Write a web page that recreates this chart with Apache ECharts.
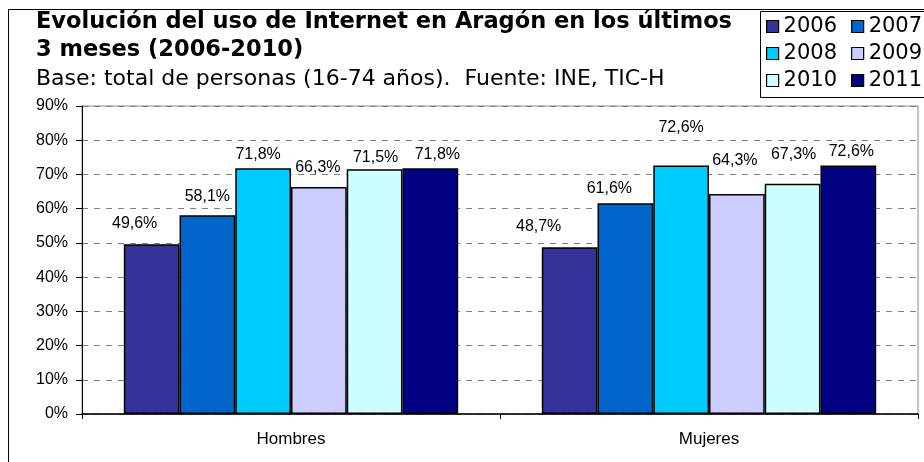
<!DOCTYPE html>
<html lang="es">
<head>
    <meta charset="UTF-8">
    <title>Uso de Internet en Aragón</title>
    <script src="https://cdn.jsdelivr.net/npm/echarts@6/dist/echarts.min.js"></script>
    <style>
        html, body { margin: 0; padding: 0; background: #ffffff; }
        #chart { width: 924px; height: 462px; }
    </style>
</head>
<body>
    <div id="chart"></div>

    <script>
        // datos (% de personas que han usado Internet en los últimos 3 meses)
        const categories = ['Hombres', 'Mujeres'];
        const years = ['2006', '2007', '2008', '2009', '2010', '2011'];
        const hombres = [49.6, 58.1, 71.8, 66.3, 71.5, 71.8];
        const mujeres = [48.7, 61.6, 72.6, 64.3, 67.3, 72.6];
        const yTicks = [0, 10, 20, 30, 40, 50, 60, 70, 80, 90];

        const colors = ['#333399', '#0066cc', '#00ccff', '#ccccff', '#ccffff', '#000080'];

        // pequeños desplazamientos de las etiquetas, como en el original
        const nudgeH = [[-17, 13], [0, 11], [-5, 6], [-1, 12], [1, 4], [7, 6]];
        const nudgeM = [[-31, 13], [-16, 7], [0, 30], [-2, 25], [1, 21], [3, 6]];

        const fmt = v => v.toFixed(1).replace('.', ',') + '%';

        const series = years.map((y, i) => ({
            name: y,
            type: 'bar',
            barGap: '0%',
            barCategoryGap: '20%',
            itemStyle: { color: colors[i], borderColor: '#000', borderWidth: 1.5 },
            data: [
                { value: hombres[i], label: { offset: [nudgeH[i][0], -nudgeH[i][1]] } },
                { value: mujeres[i], label: { offset: [nudgeM[i][0], -nudgeM[i][1]] } }
            ],
            label: {
                show: true,
                position: 'top',
                distance: 0,
                formatter: p => fmt(p.value),
                color: '#000',
                fontFamily: 'Liberation Sans',
                fontSize: 16
            }
        }));

        const legendRow = (items, top) => ({
            data: items,
            left: 766,
            top: top,
            icon: 'rect',
            itemWidth: 12,
            itemHeight: 12,
            itemGap: 14,
            padding: 0,
            itemStyle: { borderColor: '#000', borderWidth: 1.2 },
            textStyle: { fontFamily: 'DejaVu Sans', fontSize: 21, color: '#000' }
        });

        const chart = echarts.init(document.getElementById('chart'));

        chart.setOption({
            animation: false,
            title: {
                text: 'Evolución del uso de Internet en Aragón en los últimos\n3 meses (2006-2010)',
                subtext: 'Base: total de personas (16-74 años).  Fuente: INE, TIC-H',
                left: 36,
                top: 8,
                padding: 0,
                itemGap: 1,
                textStyle: {
                    fontFamily: 'DejaVu Sans', fontWeight: 'bold', fontSize: 22.5,
                    lineHeight: 28, color: '#000'
                },
                subtextStyle: {
                    fontFamily: 'DejaVu Sans', fontSize: 22, lineHeight: 28, color: '#000'
                }
            },
            legend: [
                legendRow(years.slice(0, 2), 16),
                legendRow(years.slice(2, 4), 43),
                legendRow(years.slice(4, 6), 70)
            ],
            graphic: [
                {
                    type: 'rect', z: -10, silent: true,
                    shape: { x: 8.5, y: 9.5, width: 1000, height: 1000 },
                    style: { fill: '#fff', stroke: '#000', lineWidth: 1 }
                },
                {
                    type: 'rect', z: -5, silent: true,
                    shape: { x: 760.5, y: 11.5, width: 200, height: 86 },
                    style: { fill: '#fff', stroke: '#000', lineWidth: 1 }
                }
            ],
            grid: {
                left: 82, right: 6, top: 106, bottom: 48,
                show: true, borderColor: '#888', borderWidth: 1,
                outerBoundsMode: 'none'
            },
            xAxis: {
                type: 'category',
                data: categories,
                axisLine: { lineStyle: { color: '#000', width: 1.5 } },
                axisTick: { show: true, length: 5, lineStyle: { color: '#000' } },
                axisLabel: {
                    color: '#000', fontFamily: 'Liberation Sans', fontSize: 17, margin: 17
                }
            },
            yAxis: {
                type: 'value',
                min: yTicks[0],
                max: yTicks[yTicks.length - 1],
                interval: yTicks[1] - yTicks[0],
                axisLine: { show: true, lineStyle: { color: '#000', width: 1 } },
                axisTick: { show: true, length: 6, lineStyle: { color: '#000' } },
                axisLabel: {
                    color: '#000', fontFamily: 'Liberation Sans', fontSize: 16, margin: 14,
                    formatter: '{value}%'
                },
                splitLine: { lineStyle: { color: '#808080', type: [6, 6], width: 1 } }
            },
            series: series
        });
    </script>
</body>
</html>
